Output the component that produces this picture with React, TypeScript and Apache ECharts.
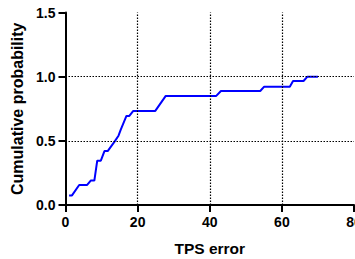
import React, { useEffect, useRef } from "react";
import * as echarts from "echarts";

const tpsError = [1.0, 1.8, 3.8, 6.0, 7.0, 8.0, 8.8, 9.8, 10.8, 11.7, 13.5, 14.7, 15.3, 16.9, 17.7, 18.8, 24.9, 27.8, 41.8, 43.1, 54.0, 55.1, 62.2, 63.1, 66.0, 67.1, 70.0];
const cumProb = [0.075, 0.075, 0.156, 0.156, 0.19, 0.19, 0.345, 0.345, 0.42, 0.42, 0.49, 0.54, 0.585, 0.694, 0.694, 0.733, 0.733, 0.85, 0.85, 0.888, 0.888, 0.922, 0.922, 0.966, 0.966, 1.0, 1.0];
const xGridValues = [20, 40, 60];
const yGridValues = [0.5, 1.0];

export default function App() {
  const ref = useRef<HTMLDivElement>(null);
  useEffect(() => {
    if (!ref.current) return;
    const chart = echarts.init(ref.current, undefined, { renderer: "svg", width: 355, height: 259 });
    const font = "Arial, 'Liberation Sans', sans-serif";
    const axisCommon = {
      axisLine: { show: true, lineStyle: { color: "#000", width: 2 } },
      axisTick: { show: true, length: 7, lineStyle: { color: "#000", width: 2 } },
      splitLine: { show: false },
    };
    const labelStyle = { fontFamily: font, fontWeight: "bold", fontSize: 14, color: "#000", margin: 10 };
    chart.setOption({
      animation: false,
      grid: {
        left: 65.5,
        top: 12.5,
        width: 288.5,
        height: 192.5,
        containLabel: false,
        outerBoundsMode: "none",
      },
      xAxis: {
        type: "value",
        min: 0,
        max: 80,
        interval: 20,
        name: "TPS error",
        nameLocation: "middle",
        nameGap: 35,
        nameTextStyle: { fontFamily: font, fontWeight: "bold", fontSize: 15.5, color: "#000" },
        ...axisCommon,
        axisLabel: { ...labelStyle },
      },
      yAxis: {
        type: "value",
        min: 0,
        max: 1.5,
        interval: 0.5,
        name: "Cumulative probability",
        nameLocation: "middle",
        nameGap: 37,
        nameTextStyle: { fontFamily: font, fontWeight: "bold", fontSize: 16, color: "#000" },
        ...axisCommon,
        axisLabel: { ...labelStyle, formatter: (v: number) => v.toFixed(1) },
      },
      series: [
        {
          type: "line",
          data: tpsError.map((x, i) => [x, cumProb[i]]),
          showSymbol: false,
          symbol: "none",
          lineStyle: { color: "#0000ff", width: 2 },
          z: 3,
          markLine: {
            silent: true,
            symbol: ["none", "none"],
            label: { show: false },
            lineStyle: { color: "#000", width: 1.2, type: [1.5, 1.5] },
            data: [
              ...xGridValues.map((v) => ({ xAxis: v })),
              ...yGridValues.map((v) => ({ yAxis: v })),
            ],
          },
        },
      ],
    });
    return () => chart.dispose();
  }, []);
  return (
    <div
      ref={ref}
      style={{ position: "fixed", left: 0, top: 0, width: 355, height: 259, background: "#fff" }}
    />
  );
}
